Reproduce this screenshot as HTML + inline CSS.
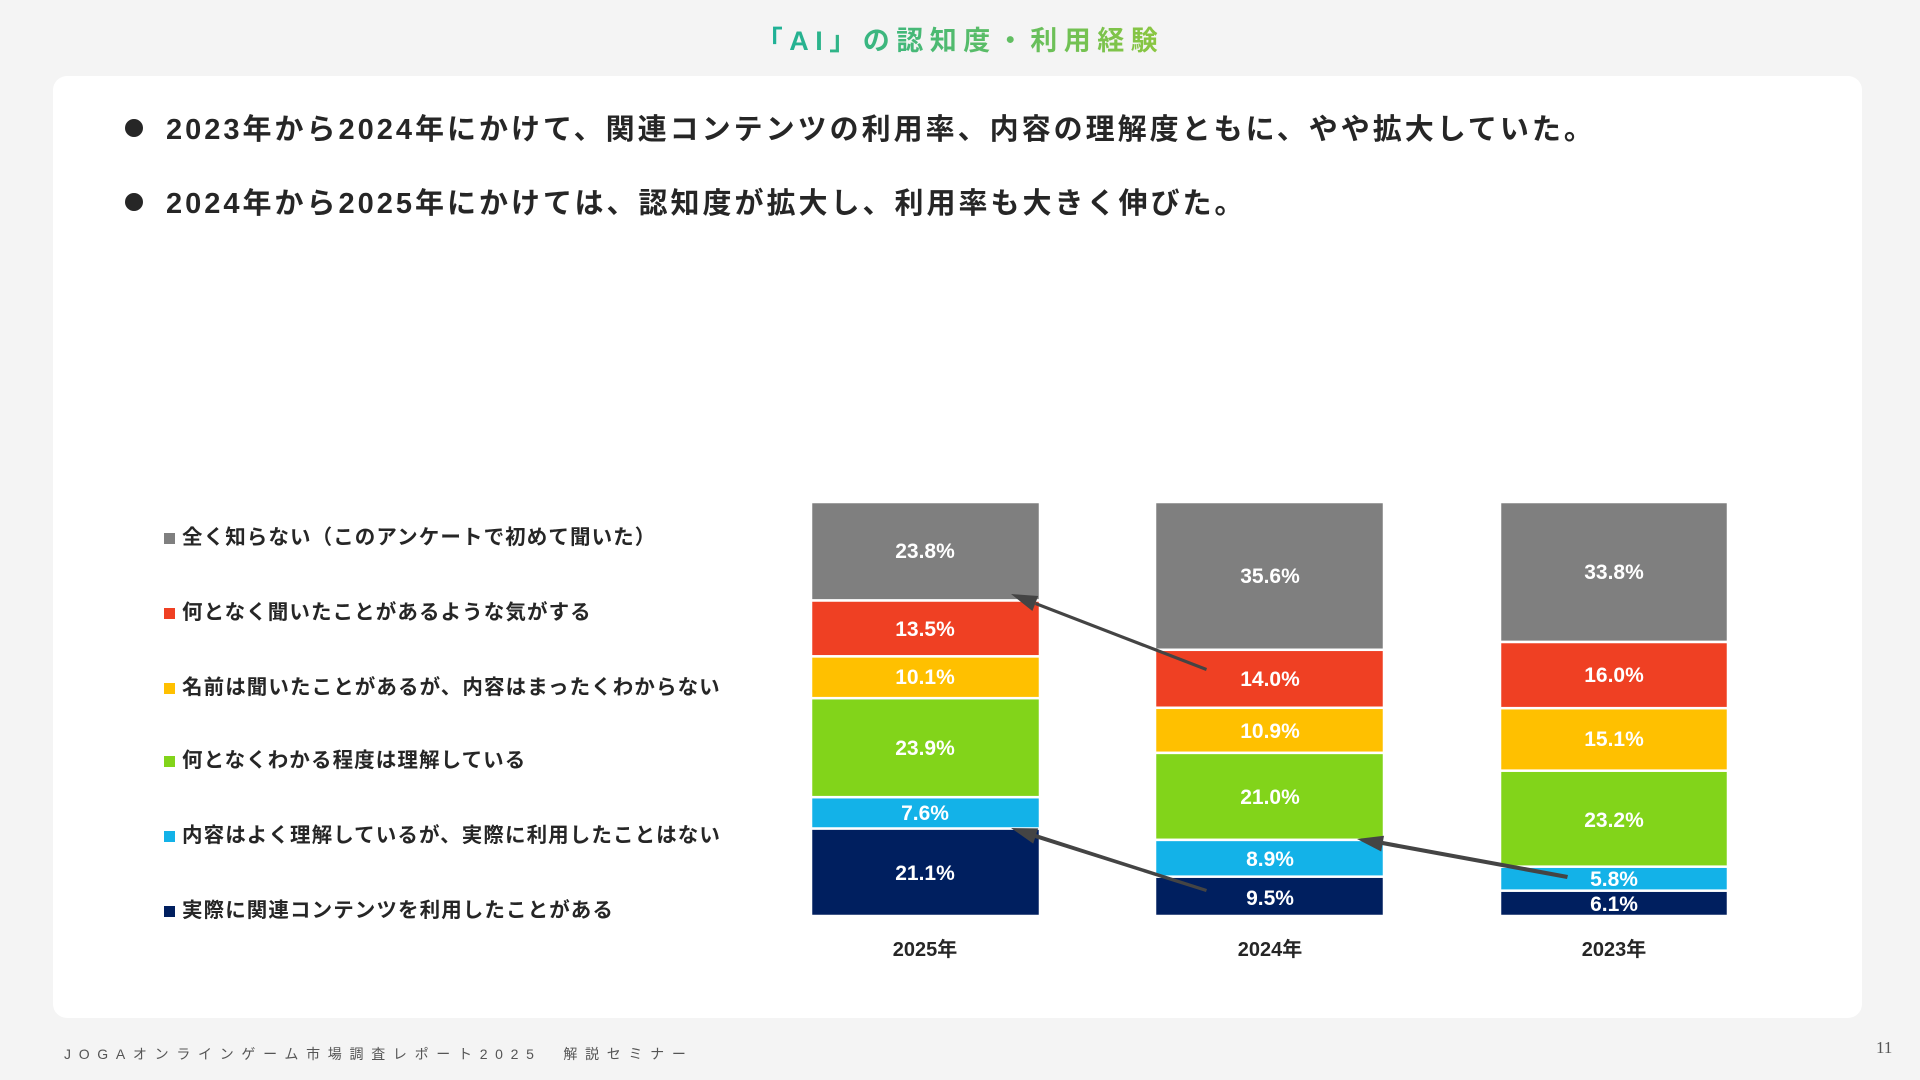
<!DOCTYPE html>
<html><head><meta charset="utf-8"><style>
body{margin:0;width:1920px;height:1080px;background:#f4f4f4;font-family:"Liberation Sans","Noto Sans CJK JP",sans-serif;position:relative;overflow:hidden}
.card{position:absolute;left:53px;top:76px;width:1809px;height:942px;background:#fff;border-radius:14px}
.title{position:absolute;top:19px;left:0;width:1920px;text-align:center;font-size:27px;font-weight:bold;letter-spacing:6.5px;}
.title span{background:linear-gradient(90deg,#1ab09a,#8cc63f);-webkit-background-clip:text;background-clip:text;color:transparent}
.b{position:absolute;left:125px;font-size:29px;font-weight:bold;color:#262626;letter-spacing:3px}
.b i{display:inline-block;width:18px;height:18px;border-radius:50%;background:#262626;margin-right:23px;vertical-align:2px}
.lg{position:absolute;left:164px;font-size:20.5px;font-weight:bold;color:#262626;letter-spacing:1.1px}
.lg i{display:inline-block;width:11px;height:11px;margin-right:7px;vertical-align:0px}
.foot{position:absolute;left:64px;top:1044px;font-size:14px;letter-spacing:7.7px;color:#555}
.pg{position:absolute;left:1876px;top:1038px;font-size:17px;color:#555;font-family:"Liberation Serif",serif}
</style></head><body>
<div class="title"><span>「AI」の認知度・利用経験</span></div>
<div class="card"></div>
<div class="b" style="top:106px"><i></i>2023年から2024年にかけて、関連コンテンツの利用率、内容の理解度ともに、やや拡大していた。</div>
<div class="b" style="top:180px"><i></i>2024年から2025年にかけては、認知度が拡大し、利用率も大きく伸びた。</div>
<div class="lg" style="top:520px"><i style="background:#7f7f7f"></i>全く知らない（このアンケートで初めて聞いた）</div>
<div class="lg" style="top:595px"><i style="background:#ef4023"></i>何となく聞いたことがあるような気がする</div>
<div class="lg" style="top:670px"><i style="background:#ffc000"></i>名前は聞いたことがあるが、内容はまったくわからない</div>
<div class="lg" style="top:743px"><i style="background:#82d41a"></i>何となくわかる程度は理解している</div>
<div class="lg" style="top:818px"><i style="background:#13b2e8"></i>内容はよく理解しているが、実際に利用したことはない</div>
<div class="lg" style="top:893px"><i style="background:#001f5f"></i>実際に関連コンテンツを利用したことがある</div>
<svg style="position:absolute;left:0;top:0" width="1920" height="1080" font-family="Liberation Sans, Noto Sans CJK JP, sans-serif" font-weight="bold">
<g stroke="#fff" stroke-width="2.5">
<rect x="811" y="502" width="229" height="98.5" fill="#7f7f7f"/>
<rect x="811" y="600.5" width="229" height="55.9" fill="#ef4023"/>
<rect x="811" y="656.4" width="229" height="41.8" fill="#ffc000"/>
<rect x="811" y="698.2" width="229" height="99" fill="#82d41a"/>
<rect x="811" y="797.2" width="229" height="31.4" fill="#13b2e8"/>
<rect x="811" y="828.6" width="229" height="87.4" fill="#001f5f"/>
<rect x="1155" y="502" width="229" height="147.8" fill="#7f7f7f"/>
<rect x="1155" y="649.8" width="229" height="58" fill="#ef4023"/>
<rect x="1155" y="707.8" width="229" height="45.1" fill="#ffc000"/>
<rect x="1155" y="752.9" width="229" height="87" fill="#82d41a"/>
<rect x="1155" y="839.9" width="229" height="36.8" fill="#13b2e8"/>
<rect x="1155" y="876.7" width="229" height="39.3" fill="#001f5f"/>
<rect x="1500" y="502" width="228" height="140" fill="#7f7f7f"/>
<rect x="1500" y="642" width="228" height="66.2" fill="#ef4023"/>
<rect x="1500" y="708.2" width="228" height="62.5" fill="#ffc000"/>
<rect x="1500" y="770.7" width="228" height="96" fill="#82d41a"/>
<rect x="1500" y="866.7" width="228" height="24" fill="#13b2e8"/>
<rect x="1500" y="890.7" width="228" height="25.3" fill="#001f5f"/>
</g>
<g fill="#fff" font-size="21" text-anchor="middle">
<text x="925" y="558">23.8%</text><text x="925" y="636">13.5%</text><text x="925" y="684">10.1%</text>
<text x="925" y="755">23.9%</text><text x="925" y="820">7.6%</text><text x="925" y="880">21.1%</text>
<text x="1270" y="583">35.6%</text><text x="1270" y="686">14.0%</text><text x="1270" y="738">10.9%</text>
<text x="1270" y="804">21.0%</text><text x="1270" y="866">8.9%</text><text x="1270" y="905">9.5%</text>
<text x="1614" y="579">33.8%</text><text x="1614" y="682">16.0%</text><text x="1614" y="746">15.1%</text>
<text x="1614" y="827">23.2%</text><text x="1614" y="886">5.8%</text><text x="1614" y="911">6.1%</text>
</g>
<g fill="#262626" font-size="20" text-anchor="middle">
<text x="925" y="956">2025年</text><text x="1270" y="956">2024年</text><text x="1614" y="956">2023年</text>
</g>
<g fill="#444">
<polygon points="1206,671 1035,605 1036,602 1207,668"/>
<polygon points="1011,594 1038.2,596 1032.4,611"/>
<polygon points="1206,892 1035,838 1036,834 1207,889"/>
<polygon points="1011,828 1038.2,828.4 1033.2,843.6"/>
<polygon points="1567,879 1382,845 1383,841 1568,875"/>
<polygon points="1357,839 1384,835.7 1381.2,851.5"/>
</g>
</svg>
<div class="foot">JOGAオンラインゲーム市場調査レポート2025　解説セミナー</div>
<div class="pg">11</div>
</body></html>
